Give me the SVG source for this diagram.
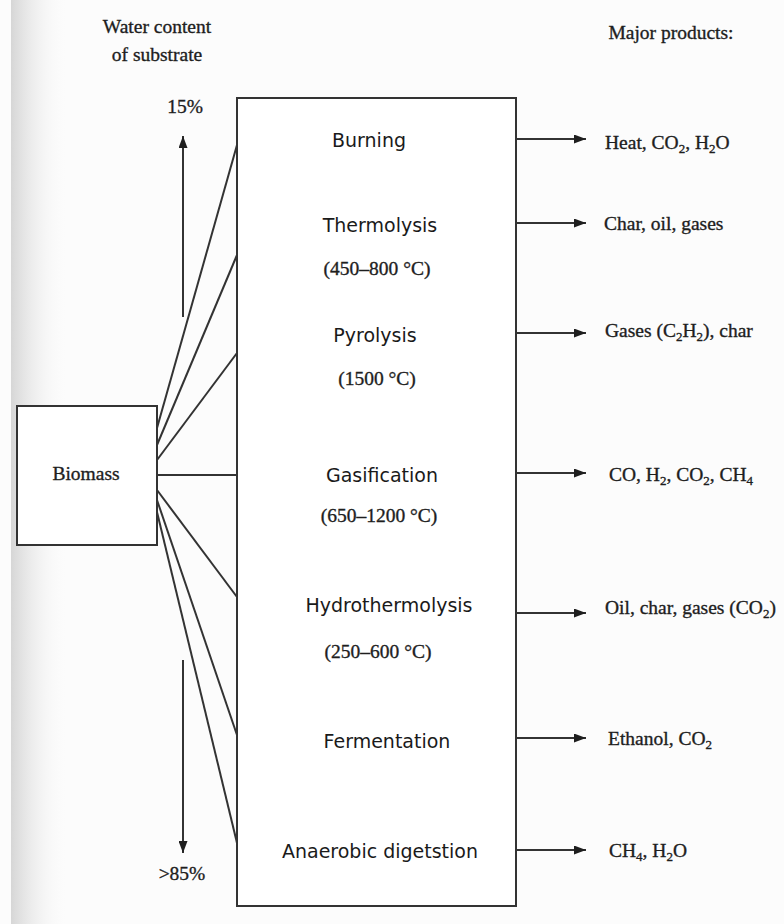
<svg xmlns="http://www.w3.org/2000/svg" width="784" height="924" viewBox="0 0 784 924">
<defs>
<linearGradient id="edge" x1="0" y1="0" x2="1" y2="0">
<stop offset="0" stop-color="#d6d6d6"/>
<stop offset="1" stop-color="#ffffff" stop-opacity="0"/>
</linearGradient>
<marker id="ah" viewBox="0 0 12 9" refX="12" refY="4.5" markerWidth="12" markerHeight="9" markerUnits="userSpaceOnUse" orient="auto">
<path d="M0,0 L12,4.5 L0,9 Z" fill="#1e1e1e"/>
</marker>
<style>
.box{fill:#fff;stroke:#333;stroke-width:2}
.ln{fill:none;stroke:#333;stroke-width:2}
.ar{fill:none;stroke:#333;stroke-width:2;marker-end:url(#ah)}
.sf{font-family:"Liberation Serif","Times New Roman",serif;font-size:19.5px;fill:#1e1e1e;stroke:#1e1e1e;stroke-width:0.35px}
.ss{font-family:"DejaVu Sans","Verdana",sans-serif;font-size:19px;fill:#1a1a1a}
.m{text-anchor:middle}
.sub{font-size:13px}
</style>
</defs>
<rect x="0" y="0" width="784" height="924" fill="#fcfcfc"/>
<rect x="11" y="0" width="60" height="924" fill="url(#edge)"/>

<g id="labels">
<text class="sf m" x="157" y="33">Water content</text>
<text class="sf m" x="157" y="61">of substrate</text>
<text class="sf m" x="185" y="113">15%</text>
<text class="sf m" x="182" y="880">&gt;85%</text>
<text class="sf m" x="671" y="39">Major products:</text>
</g>

<g id="connectors">
<line class="ar" x1="183" y1="317" x2="183" y2="136"/>
<line class="ar" x1="183" y1="660" x2="183" y2="853"/>
<line class="ln" x1="157" y1="428" x2="237" y2="145"/>
<line class="ln" x1="157" y1="445" x2="237" y2="255"/>
<line class="ln" x1="157" y1="460" x2="237" y2="353"/>
<line class="ln" x1="157" y1="475" x2="237" y2="475"/>
<line class="ln" x1="157" y1="490" x2="237" y2="597"/>
<line class="ln" x1="157" y1="500" x2="237" y2="735"/>
<line class="ln" x1="157" y1="512" x2="237" y2="843"/>
<line class="ar" x1="516" y1="139" x2="586" y2="139"/>
<line class="ar" x1="516" y1="223" x2="586" y2="223"/>
<line class="ar" x1="516" y1="333" x2="586" y2="333"/>
<line class="ar" x1="516" y1="473" x2="586" y2="473"/>
<line class="ar" x1="516" y1="613" x2="586" y2="613"/>
<line class="ar" x1="516" y1="738" x2="586" y2="738"/>
<line class="ar" x1="516" y1="850" x2="586" y2="850"/>
</g>

<g id="biomass">
<rect class="box" x="17" y="406" width="140" height="139"/>
<text class="sf m" x="86" y="480">Biomass</text>
</g>

<g id="processes">
<rect class="box" x="237" y="98" width="279" height="808"/>
</g>
<g id="burning"><text class="ss m" x="369" y="147">Burning</text></g>
<g id="thermolysis">
<text class="ss m" x="380" y="232">Thermolysis</text>
<text class="sf m" x="377" y="275">(450–800 °C)</text>
</g>
<g id="pyrolysis">
<text class="ss m" x="375" y="342">Pyrolysis</text>
<text class="sf m" x="377" y="385">(1500 °C)</text>
</g>
<g id="gasification">
<text class="ss m" x="382" y="482">Gasification</text>
<text class="sf m" x="379" y="522">(650–1200 °C)</text>
</g>
<g id="hydrothermolysis">
<text class="ss m" x="389" y="612">Hydrothermolysis</text>
<text class="sf m" x="378" y="658">(250–600 °C)</text>
</g>
<g id="fermentation"><text class="ss m" x="387" y="748">Fermentation</text></g>
<g id="anaerobic"><text class="ss m" x="380" y="858">Anaerobic digetstion</text></g>

<g id="p-burning"><text class="sf" x="605" y="149">Heat, CO<tspan class="sub" dy="4">2</tspan><tspan dy="-4">, H</tspan><tspan class="sub" dy="4">2</tspan><tspan dy="-4">O</tspan></text></g>
<g id="p-thermolysis"><text class="sf" x="604" y="230">Char, oil, gases</text></g>
<g id="p-pyrolysis"><text class="sf" x="605" y="337">Gases (C<tspan class="sub" dy="4">2</tspan><tspan dy="-4">H</tspan><tspan class="sub" dy="4">2</tspan><tspan dy="-4">), char</tspan></text></g>
<g id="p-gasification"><text class="sf" x="609" y="481">CO, H<tspan class="sub" dy="4">2</tspan><tspan dy="-4">, CO</tspan><tspan class="sub" dy="4">2</tspan><tspan dy="-4">, CH</tspan><tspan class="sub" dy="4">4</tspan></text></g>
<g id="p-hydrothermolysis"><text class="sf" x="605" y="614">Oil, char, gases (CO<tspan class="sub" dy="4">2</tspan><tspan dy="-4">)</tspan></text></g>
<g id="p-fermentation"><text class="sf" x="608" y="745">Ethanol, CO<tspan class="sub" dy="4">2</tspan></text></g>
<g id="p-anaerobic"><text class="sf" x="609" y="857">CH<tspan class="sub" dy="4">4</tspan><tspan dy="-4">, H</tspan><tspan class="sub" dy="4">2</tspan><tspan dy="-4">O</tspan></text></g>
</svg>
